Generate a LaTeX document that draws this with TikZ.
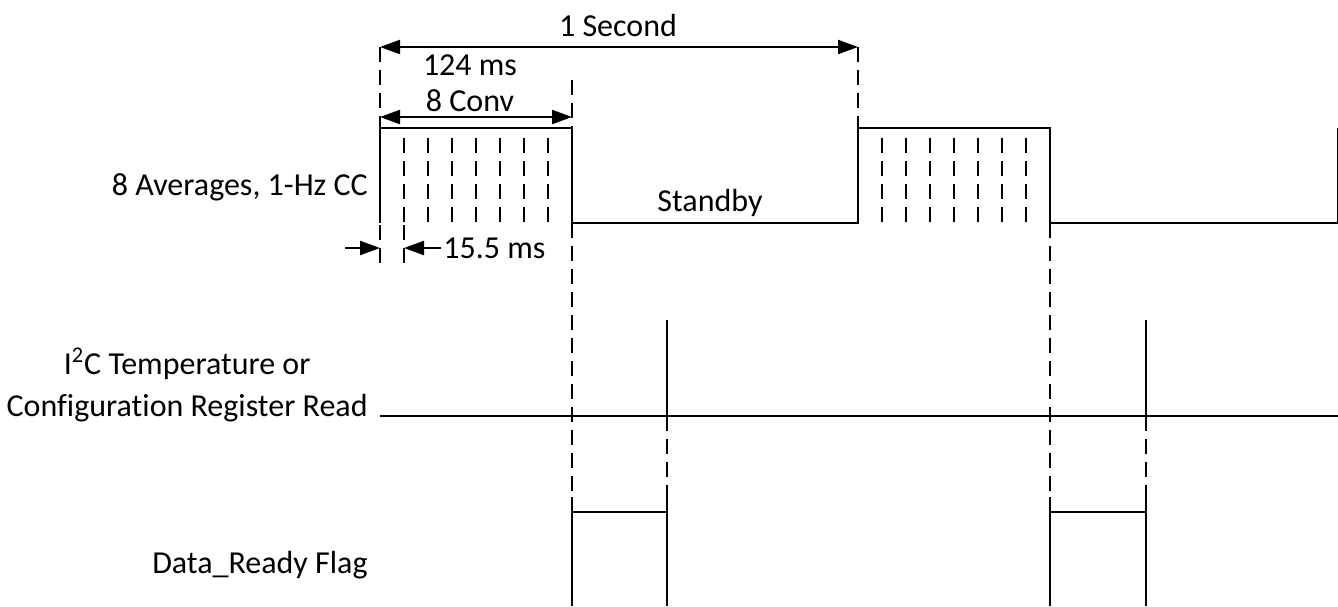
\documentclass[tikz,border=0pt]{standalone}
\usepackage{fontspec}
\setmainfont[Ligatures=NoCommon]{Carlito}
\usetikzlibrary{arrows.meta}
\tikzset{
    wave/.style={line width=1.1pt},
    guide/.style={line width=1.1pt,dash pattern=on 7.5pt off 4pt},
    dimarrow/.style={line width=1.1pt,>={Triangle[length=10pt,width=7pt]}},
}
\begin{document}
\begin{tikzpicture}[x=0.5pt,y=-0.5pt,font=\fontsize{16}{21}\selectfont]
            \useasboundingbox (0,0) rectangle (1338,606);
            % signal names
            \node[anchor=east,inner sep=0] at (368,187)(avg){8 Averages, 1-Hz CC};
            \node[anchor=east,inner sep=0,align=center] at (368,385)(rd){I\textsuperscript{2}C Temperature or\\Configuration Register Read};
            \node[anchor=east,inner sep=0] at (368,565)(rdy){Data\_Ready Flag};
            % averaging waveform
            \draw[wave] (380,223) -- (380,128) -- (572,128) -- (572,223) -- (858,223) -- (858,128) -- (1050,128) -- (1050,223) -- (1338,223) -- (1338,128);
            \node at (710,203)(stby){Standby};
            \foreach \x in {0,1,...,6}{
                \draw[guide] (404+\x*24,138) -- (404+\x*24,225);
                \draw[guide] (882+\x*24,138) -- (882+\x*24,225);
            }
            \draw[guide] (404,225) -- (404,268);
            % timing guides
            \draw[guide] (380,47) -- (380,128);
            \draw[guide] (380,225) -- (380,268);
            \draw[guide] (572,80) -- (572,128);
            \draw[guide] (572,223) -- (572,497);
            \draw[guide] (858,47) -- (858,128);
            \draw[guide] (1050,223) -- (1050,497);
            \draw[guide] (667,416) -- (667,497);
            \draw[guide] (1146,416) -- (1146,497);
            % register read
            \draw[wave] (380,416) -- (1338,416);
            \draw[wave] (667,320) -- (667,416);
            \draw[wave] (1146,320) -- (1146,416);
            % data ready
            \draw[wave] (572,606) -- (572,497) (572,512) -- (667,512) (667,497) -- (667,606);
            \draw[wave] (1050,606) -- (1050,497) (1050,512) -- (1146,512) (1146,497) -- (1146,606);
            % dimensions
            \coordinate (sec0) at (380,47);
            \coordinate (sec1) at (858,47);
            \path[draw,dimarrow,<->] (sec0) -- (sec1);
            \node at (618,25)(sec){1 Second};
            \node at (470,65)(ms){124 ms};
            \coordinate (conv0) at (380,117);
            \coordinate (conv1) at (572,117);
            \path[draw,dimarrow,<->] (conv0) -- (conv1);
            \node at (470,101)(conv){8 Conv};
            \coordinate (t0) at (345,248);
            \coordinate (t1) at (380,248);
            \coordinate (t2) at (441,248);
            \coordinate (t3) at (404,248);
            \path[draw,dimarrow,->] (t0) -- (t1);
            \path[draw,dimarrow,->] (t2) -- (t3);
            \node[anchor=west,inner sep=1pt] at (t2)(per){15.5 ms};
        \end{tikzpicture}
\end{document}
